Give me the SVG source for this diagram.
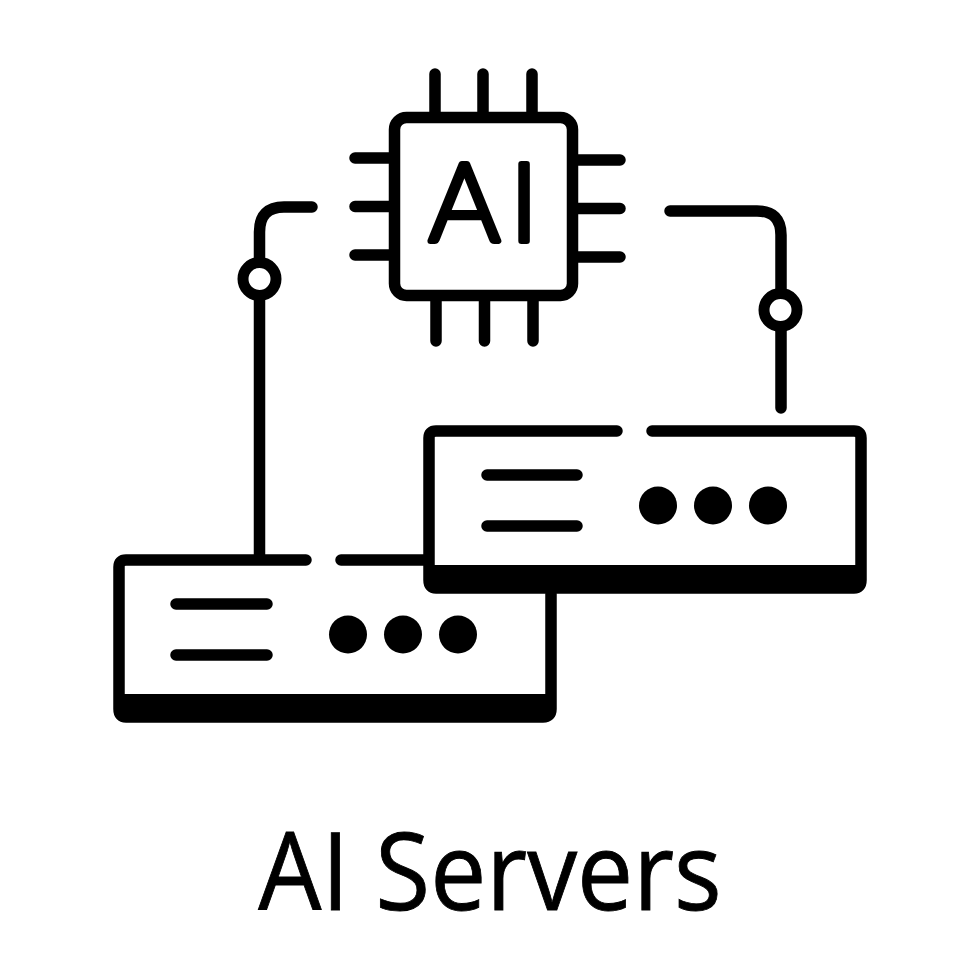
<svg xmlns="http://www.w3.org/2000/svg" width="980" height="980" viewBox="0 0 980 980">
<style>
.l{fill:none;stroke:#000;stroke-width:11.500;stroke-linecap:round;stroke-linejoin:round}
.t{font-family:"Open Sans","Noto Sans",sans-serif;fill:#000}
</style>
<rect width="980" height="980" fill="#fff"/>
<g id="connectors">
<path class="l" d="M259.500 558V232Q259.500 207 284 207H312"/>
<path class="l" d="M670 211H757Q781 211 781 235V408"/>
<circle cx="259.500" cy="279" r="16.500" fill="#fff" stroke="#000" stroke-width="11"/>
<circle cx="780.500" cy="310" r="16.500" fill="#fff" stroke="#000" stroke-width="11"/>
</g>
<g id="chip">
<rect class="l" x="394.500" y="117.500" width="178" height="178" rx="12"/>
<path class="l" d="M435 74V112M483 74V112M532 74V112M436 301V341M484.500 301V341M533 301V341M355 158H389M355 206.500H389M355 255H389M577 160H620M577 208.500H620M577 257H620"/>
<text x="429 510" y="241" font-family="Lato,'Open Sans',sans-serif" font-size="108" font-weight="300" fill="#000" stroke="#000" stroke-width="6" stroke-linejoin="round">AI</text>
</g>
<g id="server-right">
<path class="l" d="M617 431H436Q429 431 429 438V580Q429 588 436 588H854Q861 588 861 580V438Q861 431 854 431H652"/>
<rect x="429" y="565" width="432" height="23" fill="#000"/>
<path class="l" d="M487 475H577M487 526H577"/>
<circle cx="658" cy="505.500" r="19"/><circle cx="713" cy="505.500" r="19"/><circle cx="768" cy="505.500" r="19"/>
</g>
<g id="server-left">
<path class="l" d="M306 560H126Q119 560 119 567V709Q119 717 126 717H543Q551 717 551 709V594M341 560H424"/>
<rect x="119" y="694" width="432" height="23" fill="#000"/>
<path class="l" d="M176 604H267M176 655H267"/>
<circle cx="348" cy="634.500" r="19"/><circle cx="403" cy="634.500" r="19"/><circle cx="458" cy="634.500" r="19"/>
</g>
<text id="caption" class="t" transform="translate(490 910) scale(1 1.08)" font-size="100" text-anchor="middle" stroke="#000" stroke-width="0.800">AI Servers</text>
</svg>
